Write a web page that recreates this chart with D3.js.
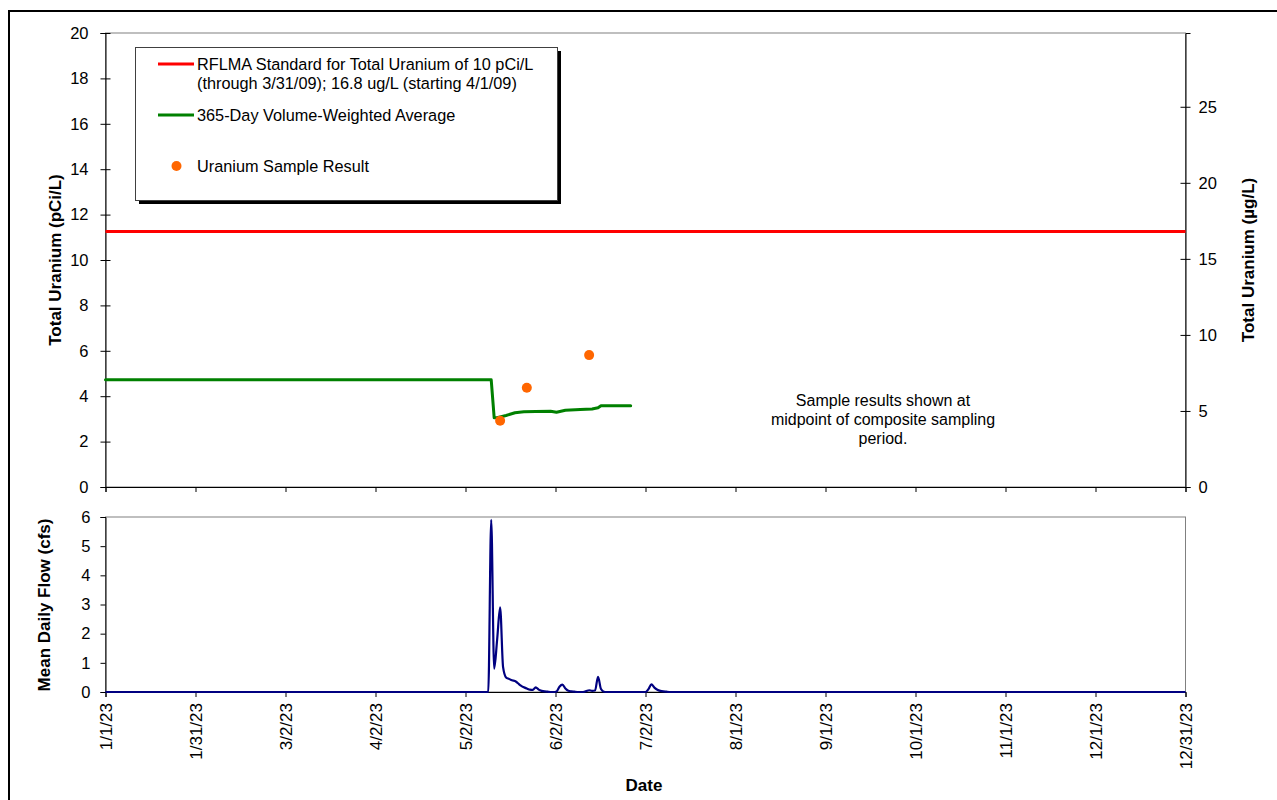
<!DOCTYPE html>
<html>
<head>
<meta charset="utf-8">
<script src="https://cdn.jsdelivr.net/npm/d3@7"></script>
<style>
  body { margin: 0; background: #fff; }
  svg { font-family: Arial, "Liberation Sans", sans-serif; }
</style>
</head>
<body>
<div id="chart"></div>
<script>
// data
const xTickLabels = ["1/1/23", "1/31/23", "3/2/23", "4/2/23", "5/2/23", "6/2/23", "7/2/23",
  "8/1/23", "9/1/23", "10/1/23", "11/1/23", "12/1/23", "12/31/23"];

const standardUgL = 16.8;   // RFLMA standard, ug/L
const ugPerPci = 1 / 0.67;  // right axis conversion

const vwaDates = ["2023-01-01", "2023-05-11", "2023-05-12", "2023-05-13", "2023-05-16", "2023-05-19",
  "2023-05-22", "2023-05-26", "2023-05-31", "2023-06-02", "2023-06-05", "2023-06-10",
  "2023-06-14", "2023-06-16", "2023-06-17", "2023-06-27"];
const vwaValues = [4.72, 4.72, 3.05, 3.05, 3.15, 3.27, 3.31, 3.33, 3.34, 3.29, 3.38, 3.41,
  3.44, 3.49, 3.58, 3.58];

const sampleDates = ["2023-05-14", "2023-05-23", "2023-06-13"];
const sampleValues = [2.92, 4.37, 5.81];

const flowDates = ["2023-01-01", "2023-05-10", "2023-05-11", "2023-05-12", "2023-05-13", "2023-05-14",
  "2023-05-15", "2023-05-16", "2023-05-17", "2023-05-18", "2023-05-19", "2023-05-20", "2023-05-21",
  "2023-05-22", "2023-05-23", "2023-05-24", "2023-05-25", "2023-05-26", "2023-05-27", "2023-05-28",
  "2023-05-29", "2023-05-30", "2023-05-31", "2023-06-01", "2023-06-02", "2023-06-03", "2023-06-04",
  "2023-06-05", "2023-06-06", "2023-06-07", "2023-06-08", "2023-06-09", "2023-06-11", "2023-06-12",
  "2023-06-13", "2023-06-14", "2023-06-15", "2023-06-16", "2023-06-17", "2023-06-18", "2023-06-19",
  "2023-07-02", "2023-07-03", "2023-07-04", "2023-07-05", "2023-07-06", "2023-07-07", "2023-07-08",
  "2023-07-09", "2023-07-10", "2023-12-31"];
const flowValues = [0, 0, 5.9, 0.8, 1.8, 2.9,
  0.85, 0.5, 0.45, 0.4, 0.38, 0.3, 0.22,
  0.16, 0.12, 0.08, 0.07, 0.16, 0.08, 0.04,
  0.02, 0.01, 0, 0, 0.02, 0.18, 0.25,
  0.12, 0.04, 0.02, 0.01, 0, 0, 0.03,
  0.06, 0.04, 0.05, 0.52, 0.1, 0.01, 0,
  0, 0.1, 0.26, 0.15, 0.08, 0.04, 0.02,
  0.01, 0, 0];

const legendLabels = [
  ["RFLMA Standard for Total Uranium of 10 pCi/L", "(through 3/31/09); 16.8 ug/L (starting 4/1/09)"],
  ["365-Day Volume-Weighted Average"],
  ["Uranium Sample Result"]
];
const noteLines = ["Sample results shown at", "midpoint of composite sampling", "period."];

const width = 1277, height = 800;
const parse = d3.timeParse("%Y-%m-%d");

const svg = d3.select("#chart").append("svg")
  .attr("width", width).attr("height", height);

// outer frame
svg.append("rect")
  .attr("x", 9).attr("y", 11).attr("width", 1300).attr("height", 820)
  .attr("fill", "none").attr("stroke", "#000").attr("stroke-width", 2);

const left = 105.5, right = 1185.5;
const top1 = 33, bot1 = 487;
const top2 = 517, bot2 = 692;

const x = d3.scaleTime()
  .domain([new Date(2023, 0, 1), new Date(2023, 11, 31)])
  .range([left, right]);
const yL = d3.scaleLinear().domain([0, 20]).range([bot1, top1]);
const yR = d3.scaleLinear().domain([0, 20 * ugPerPci]).range([bot1, top1]);
const yF = d3.scaleLinear().domain([0, 6]).range([bot2, top2]);

const tickDates = xTickLabels.map((_, i) => d3.timeHour.offset(new Date(2023, 0, 1), Math.round(i * 364 * 24 / 12)));

// plot area borders
svg.append("rect").attr("x", left).attr("y", top1).attr("width", right - left).attr("height", bot1 - top1)
  .attr("fill", "none").attr("stroke", "#808080").attr("stroke-width", 1);
svg.append("rect").attr("x", left).attr("y", top2).attr("width", right - left).attr("height", bot2 - top2)
  .attr("fill", "none").attr("stroke", "#808080").attr("stroke-width", 1);

function styleAxis(g) {
  g.selectAll("path.domain").attr("stroke", "#000");
  g.selectAll(".tick line").attr("stroke", "#000");
  g.selectAll("text").attr("font-size", 16.5).attr("fill", "#000").attr("font-family", null);
}

// top chart axes
svg.append("g").attr("transform", `translate(${left},0)`)
  .call(d3.axisLeft(yL).tickValues(d3.range(0, 21, 2)).tickSizeOuter(0).tickSize(5).tickPadding(12))
  .call(styleAxis)
  .call(g => g.selectAll(".tick line").attr("x1", 5).attr("x2", -5));

svg.append("g").attr("transform", `translate(${right},0)`)
  .call(d3.axisRight(yR).tickValues([0, 5, 10, 15, 20, 25]).tickSizeOuter(0).tickSize(5).tickPadding(8))
  .call(styleAxis)
  .call(g => g.selectAll(".tick line").attr("x1", -5).attr("x2", 5));

svg.append("g").attr("transform", `translate(0,${bot1})`)
  .call(d3.axisBottom(x).tickValues(tickDates).tickFormat("").tickSizeOuter(0).tickSize(5))
  .call(styleAxis);

// bottom chart axes
svg.append("g").attr("transform", `translate(${left},0)`)
  .call(d3.axisLeft(yF).tickValues(d3.range(0, 7)).tickFormat(d3.format("d")).tickSizeOuter(0).tickSize(5).tickPadding(10))
  .call(styleAxis);

svg.append("g").attr("transform", `translate(0,${bot2})`)
  .call(d3.axisBottom(x).tickValues(tickDates).tickFormat((d, i) => xTickLabels[i]).tickSizeOuter(0).tickSize(5))
  .call(styleAxis)
  .call(g => g.selectAll("text")
    .attr("font-size", 17)
    .attr("transform", "rotate(-90)")
    .attr("text-anchor", "end")
    .attr("x", -11).attr("y", 0).attr("dy", "0.35em"));

// series
svg.append("line")
  .attr("x1", x.range()[0]).attr("x2", x.range()[1])
  .attr("y1", yR(standardUgL)).attr("y2", yR(standardUgL))
  .attr("stroke", "#ff0000").attr("stroke-width", 3);

const vwa = vwaDates.map((d, i) => ({ date: parse(d), value: vwaValues[i] }));
svg.append("path").datum(vwa)
  .attr("d", d3.line().x(d => x(d.date)).y(d => yL(d.value)))
  .attr("fill", "none").attr("stroke", "#008000").attr("stroke-width", 3)
  .attr("stroke-linejoin", "round").attr("stroke-linecap", "round");

const samples = sampleDates.map((d, i) => ({ date: parse(d), value: sampleValues[i] }));
svg.selectAll("circle.sample").data(samples).join("circle")
  .attr("class", "sample")
  .attr("cx", d => x(d.date)).attr("cy", d => yL(d.value)).attr("r", 5)
  .attr("fill", "#ff6600");

const flow = flowDates.map((d, i) => ({ date: parse(d), value: flowValues[i] }));
svg.append("path").datum(flow)
  .attr("d", d3.line().curve(d3.curveMonotoneX).x(d => x(d.date)).y(d => yF(d.value)))
  .attr("fill", "none").attr("stroke", "#000080").attr("stroke-width", 2.2)
  .attr("stroke-linejoin", "round");

// legend
const lg = svg.append("g");
lg.append("rect").attr("x", 139).attr("y", 51).attr("width", 422).attr("height", 153).attr("fill", "#000");
lg.append("rect").attr("x", 135.5).attr("y", 47.5).attr("width", 422).attr("height", 153)
  .attr("fill", "#fff").attr("stroke", "#404040").attr("stroke-width", 1);
const legendY = [64, 115, 166];
lg.append("line").attr("x1", 158).attr("x2", 194).attr("y1", legendY[0]).attr("y2", legendY[0])
  .attr("stroke", "#ff0000").attr("stroke-width", 3);
lg.append("line").attr("x1", 158).attr("x2", 194).attr("y1", legendY[1]).attr("y2", legendY[1])
  .attr("stroke", "#008000").attr("stroke-width", 3);
lg.append("circle").attr("cx", 176.5).attr("cy", legendY[2]).attr("r", 5).attr("fill", "#ff6600");
legendLabels.forEach((lines, i) => {
  lines.forEach((t, j) => {
    lg.append("text").attr("x", 197).attr("y", legendY[i] + j * 19).attr("dy", "0.35em")
      .attr("font-size", 16.3).text(t);
  });
});

// note
noteLines.forEach((t, i) => {
  svg.append("text").attr("x", 883).attr("y", 400 + i * 19).attr("dy", "0.35em")
    .attr("text-anchor", "middle").attr("font-size", 16).text(t);
});

// axis titles
svg.append("text").attr("transform", "translate(55,260) rotate(-90)")
  .attr("text-anchor", "middle").attr("dy", "0.35em")
  .attr("font-size", 17).attr("font-weight", "bold").text("Total Uranium (pCi/L)");
svg.append("text").attr("transform", "translate(1248,260) rotate(-90)")
  .attr("text-anchor", "middle").attr("dy", "0.35em")
  .attr("font-size", 17).attr("font-weight", "bold").text("Total Uranium (µg/L)");
svg.append("text").attr("transform", "translate(44,605) rotate(-90)")
  .attr("text-anchor", "middle").attr("dy", "0.35em")
  .attr("font-size", 17).attr("font-weight", "bold").text("Mean Daily Flow (cfs)");
svg.append("text").attr("x", 644).attr("y", 785).attr("dy", "0.35em")
  .attr("text-anchor", "middle").attr("font-size", 17).attr("font-weight", "bold").text("Date");
</script>
</body>
</html>
